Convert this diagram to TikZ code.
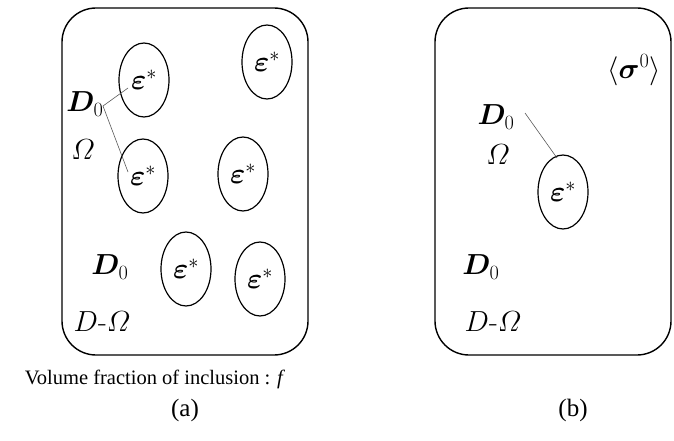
\RequirePackage{fix-cm}
\documentclass[tikz,border=0pt]{standalone}
\usepackage{fontspec}
\usepackage{amsmath}
\usepackage{bm}
\newfontfamily\capfont{Liberation Serif}
\usetikzlibrary{shapes.geometric}
\begin{document}
\begin{tikzpicture}[x=1pt,y=-1pt,
  frame/.style={draw,line width=1.4pt,rounded corners=34pt},
  incl/.style={draw,ellipse,line width=1.2pt,minimum width=50pt,minimum height=74pt,inner sep=0pt,
     font=\fontsize{29}{32}\selectfont},
  lab/.style={font=\fontsize{29}{32}\selectfont,inner sep=0pt},
  captext/.style={font=\capfont\fontsize{20.5}{24}\selectfont,inner sep=0pt},
  sublabel/.style={font=\capfont\fontsize{25}{28}\selectfont,inner sep=0pt},
  lead/.style={draw,gray!70!black,line width=0.6pt}]
\useasboundingbox (0,0) rectangle (674,441);
% (a)
\draw[frame] (62,8) rectangle (308,355);
\node[incl] (a1) at (144,80) {$\bm{\varepsilon}^{*}$};
\node[incl] (a2) at (267,62) {$\bm{\varepsilon}^{*}$};
\node[incl] (a3) at (143,176) {$\bm{\varepsilon}^{*}$};
\node[incl] (a4) at (243,174) {$\bm{\varepsilon}^{*}$};
\node[incl] (a5) at (186,269) {$\bm{\varepsilon}^{*}$};
\node[incl] (a6) at (260,279) {$\bm{\varepsilon}^{*}$};
\node[lab] (ad0) at (85,104) {$\bm{D}_0$};
\node[lab] (aom) at (83,150) {$\varOmega$};
\node[lab] (ad1) at (110,267) {$\bm{D}_0$};
\node[lab] (adm) at (102,322) {$D\text{-}\varOmega$};
\coordinate (aj) at (103,106);
\coordinate (ae1) at (128,88);
\coordinate (ae3) at (128,172);
\draw[lead] (ae1) -- (aj) -- (ae3);
\node[captext] (capf) at (155,379) {Volume fraction of inclusion : \textit{f}};
\node[sublabel] (capa) at (185,410) {(a)};
% (b)
\draw[frame] (435,8) rectangle (671,355);
\node[lab] (sig) at (634,70) {$\langle\bm{\sigma}^{0}\rangle$};
\node[lab] (bd0) at (496,117) {$\bm{D}_0$};
\node[lab] (bom) at (498,155) {$\varOmega$};
\node[incl] (b1) at (563,192) {$\bm{\varepsilon}^{*}$};
\coordinate (bj) at (525,113);
\coordinate (be1) at (557,158);
\draw[lead] (bj) -- (be1);
\node[lab] (bd1) at (481,267) {$\bm{D}_0$};
\node[lab] (bdm) at (493,322) {$D\text{-}\varOmega$};
\node[sublabel] (capb) at (573,410) {(b)};
\end{tikzpicture}
\end{document}
